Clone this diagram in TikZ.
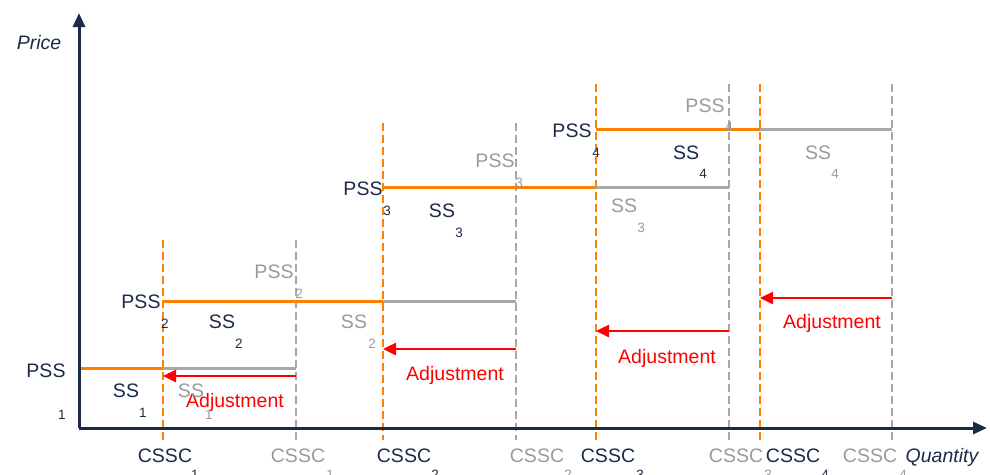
\documentclass[tikz,border=0pt]{standalone}
\usepackage{fontspec}
\setmainfont{Liberation Sans}
\usetikzlibrary{arrows.meta}

\definecolor{navy}{HTML}{1B2A47}
\definecolor{tone}{HTML}{FF8000}
\definecolor{ash}{HTML}{A8A8A8}
\definecolor{ashtext}{HTML}{9A9A9A}
\definecolor{alert}{HTML}{FF0000}

\begin{document}
\begin{tikzpicture}[
    x=1pt, y=-1pt,
    lbl/.style={inner sep=0pt, anchor=base, text=navy,
                font=\fontsize{19.5}{22}\selectfont},
    sub/.style={inner sep=0pt, anchor=base, text=navy,
                font=\fontsize{13.5}{16}\selectfont},
    faded/.style={text=ashtext},
    redlbl/.style={lbl, text=alert},
    axisline/.style={draw=navy, line width=3pt,
                     -{Triangle[length=14pt,width=12pt]}},
    guide/.style={line width=2pt, dash pattern=on 8pt off 4pt},
    newguide/.style={guide, draw=tone},
    oldguide/.style={guide, draw=ash},
    newlevel/.style={draw=tone, line width=3pt},
    oldlevel/.style={draw=ash, line width=3pt},
    adjust/.style={draw=alert, line width=2.5pt,
                   -{Triangle[length=13pt,width=12pt]}}
  ]
  \clip (0,0) rectangle (990,474);

  % axes end points
  \coordinate (O)  at (79,428);
  \coordinate (Yt) at (79,13);
  \coordinate (Xt) at (987,428);

  % vertical guides: top and bottom end points
  \coordinate (n1t) at (163,240); \coordinate (n1b) at (163,440);
  \coordinate (o1t) at (296,240); \coordinate (o1b) at (296,440);
  \coordinate (n2t) at (383,123); \coordinate (n2b) at (383,440);
  \coordinate (o2t) at (516,123); \coordinate (o2b) at (516,440);
  \coordinate (n3t) at (596,84);  \coordinate (n3b) at (596,440);
  \coordinate (o3t) at (729,84);  \coordinate (o3b) at (729,440);
  \coordinate (n4t) at (760,84);  \coordinate (n4b) at (760,440);
  \coordinate (o4t) at (892,84);  \coordinate (o4b) at (892,440);

  \draw[newguide] (n1t) -- (n1b);
  \draw[oldguide] (o1t) -- (o1b);
  \draw[newguide] (n2t) -- (n2b);
  \draw[oldguide] (o2t) -- (o2b);
  \draw[newguide] (n3t) -- (n3b);
  \draw[oldguide] (o3t) -- (o3b);
  \draw[newguide] (n4t) -- (n4b);
  \draw[oldguide] (o4t) -- (o4b);

  % price levels
  \coordinate (l1a) at (79,368);  \coordinate (l1b) at (163,368);  \coordinate (l1c) at (296,368);
  \coordinate (l2a) at (163,301); \coordinate (l2b) at (383,301);  \coordinate (l2c) at (516,301);
  \coordinate (l3a) at (383,187); \coordinate (l3b) at (596,187);  \coordinate (l3c) at (729,187);
  \coordinate (l4a) at (596,129); \coordinate (l4b) at (760,129);  \coordinate (l4c) at (892,129);

  \draw[oldlevel] (l1b) -- (l1c);
  \draw[newlevel] (l1a) -- (l1b);
  \draw[oldlevel] (l2b) -- (l2c);
  \draw[newlevel] (l2a) -- (l2b);
  \draw[oldlevel] (l3b) -- (l3c);
  \draw[newlevel] (l3a) -- (l3b);
  \draw[oldlevel] (l4b) -- (l4c);
  \draw[newlevel] (l4a) -- (l4b);

  % adjustment arrows
  \coordinate (a1s) at (296,376); \coordinate (a1e) at (163,376);
  \coordinate (a2s) at (516,349); \coordinate (a2e) at (383,349);
  \coordinate (a3s) at (729,331); \coordinate (a3e) at (596,331);
  \coordinate (a4s) at (892,298); \coordinate (a4e) at (760,298);
  \draw[adjust] (a1s) -- (a1e);
  \draw[adjust] (a2s) -- (a2e);
  \draw[adjust] (a3s) -- (a3e);
  \draw[adjust] (a4s) -- (a4e);

  \node[redlbl] (adj1) at (235,407) {Adjustment};
  \node[redlbl] (adj2) at (455,380) {Adjustment};
  \node[redlbl] (adj3) at (667,363) {Adjustment};
  \node[redlbl] (adj4) at (832,328) {Adjustment};

  % axes
  \draw[axisline] (O) -- (Yt);
  \draw[axisline] (O) -- (Xt);
  \node[lbl, font=\fontsize{19.5}{22}\selectfont\itshape] (price) at (39,49) {Price};
  \node[lbl, font=\fontsize{19.5}{22}\selectfont\itshape] (qty) at (942,462) {Quantity};

  % step 1 labels
  \node[lbl] (pss1) at (46,377) {PSS};   \node[sub] (pss1i) at (62,419) {1};
  \node[lbl] (ss1) at (126,397) {SS};    \node[sub] (ss1i) at (143,417) {1};
  \node[lbl, faded] (ss1o) at (191,397) {SS}; \node[sub, faded] (ss1oi) at (209,419) {1};

  % step 2 labels
  \node[lbl] (pss2) at (141,308) {PSS};  \node[sub] (pss2i) at (165,328) {2};
  \node[lbl] (ss2) at (222,328) {SS};    \node[sub] (ss2i) at (239,348) {2};
  \node[lbl, faded] (pss2o) at (274,278) {PSS}; \node[sub, faded] (pss2oi) at (299,298) {2};
  \node[lbl, faded] (ss2o) at (354,328) {SS};   \node[sub, faded] (ss2oi) at (372,348) {2};

  % step 3 labels
  \node[lbl] (pss3) at (363,195) {PSS};  \node[sub] (pss3i) at (387,215) {3};
  \node[lbl] (ss3) at (442,217) {SS};    \node[sub] (ss3i) at (459,237) {3};
  \node[lbl, faded] (pss3o) at (495,167) {PSS}; \node[sub, faded] (pss3oi) at (519,187) {3};
  \node[lbl, faded] (ss3o) at (624,212) {SS};   \node[sub, faded] (ss3oi) at (641,232) {3};

  % step 4 labels
  \node[lbl] (pss4) at (572,137) {PSS};  \node[sub] (pss4i) at (596,157) {4};
  \node[lbl] (ss4) at (686,159) {SS};    \node[sub] (ss4i) at (703,178) {4};
  \node[lbl, faded] (pss4o) at (705,112) {PSS}; \node[sub, faded] (pss4oi) at (729,131) {4};
  \node[lbl, faded] (ss4o) at (818,159) {SS};   \node[sub, faded] (ss4oi) at (835,178) {4};

  % quantity axis labels
  \node[lbl] (c1) at (165,462) {CSSC};        \node[sub] (c1i) at (195,479) {1};
  \node[lbl, faded] (c1o) at (298,462) {CSSC}; \node[sub, faded] (c1oi) at (330,479) {1};
  \node[lbl] (c2) at (404,462) {CSSC};        \node[sub] (c2i) at (435,479) {2};
  \node[lbl, faded] (c2o) at (537,462) {CSSC}; \node[sub, faded] (c2oi) at (568,479) {2};
  \node[lbl] (c3) at (608,462) {CSSC};        \node[sub] (c3i) at (640,479) {3};
  \node[lbl, faded] (c3o) at (736,462) {CSSC}; \node[sub, faded] (c3oi) at (768,479) {3};
  \node[lbl] (c4) at (793,462) {CSSC};        \node[sub] (c4i) at (825,479) {4};
  \node[lbl, faded] (c4o) at (870,462) {CSSC}; \node[sub, faded] (c4oi) at (903,479) {4};
\end{tikzpicture}
\end{document}
